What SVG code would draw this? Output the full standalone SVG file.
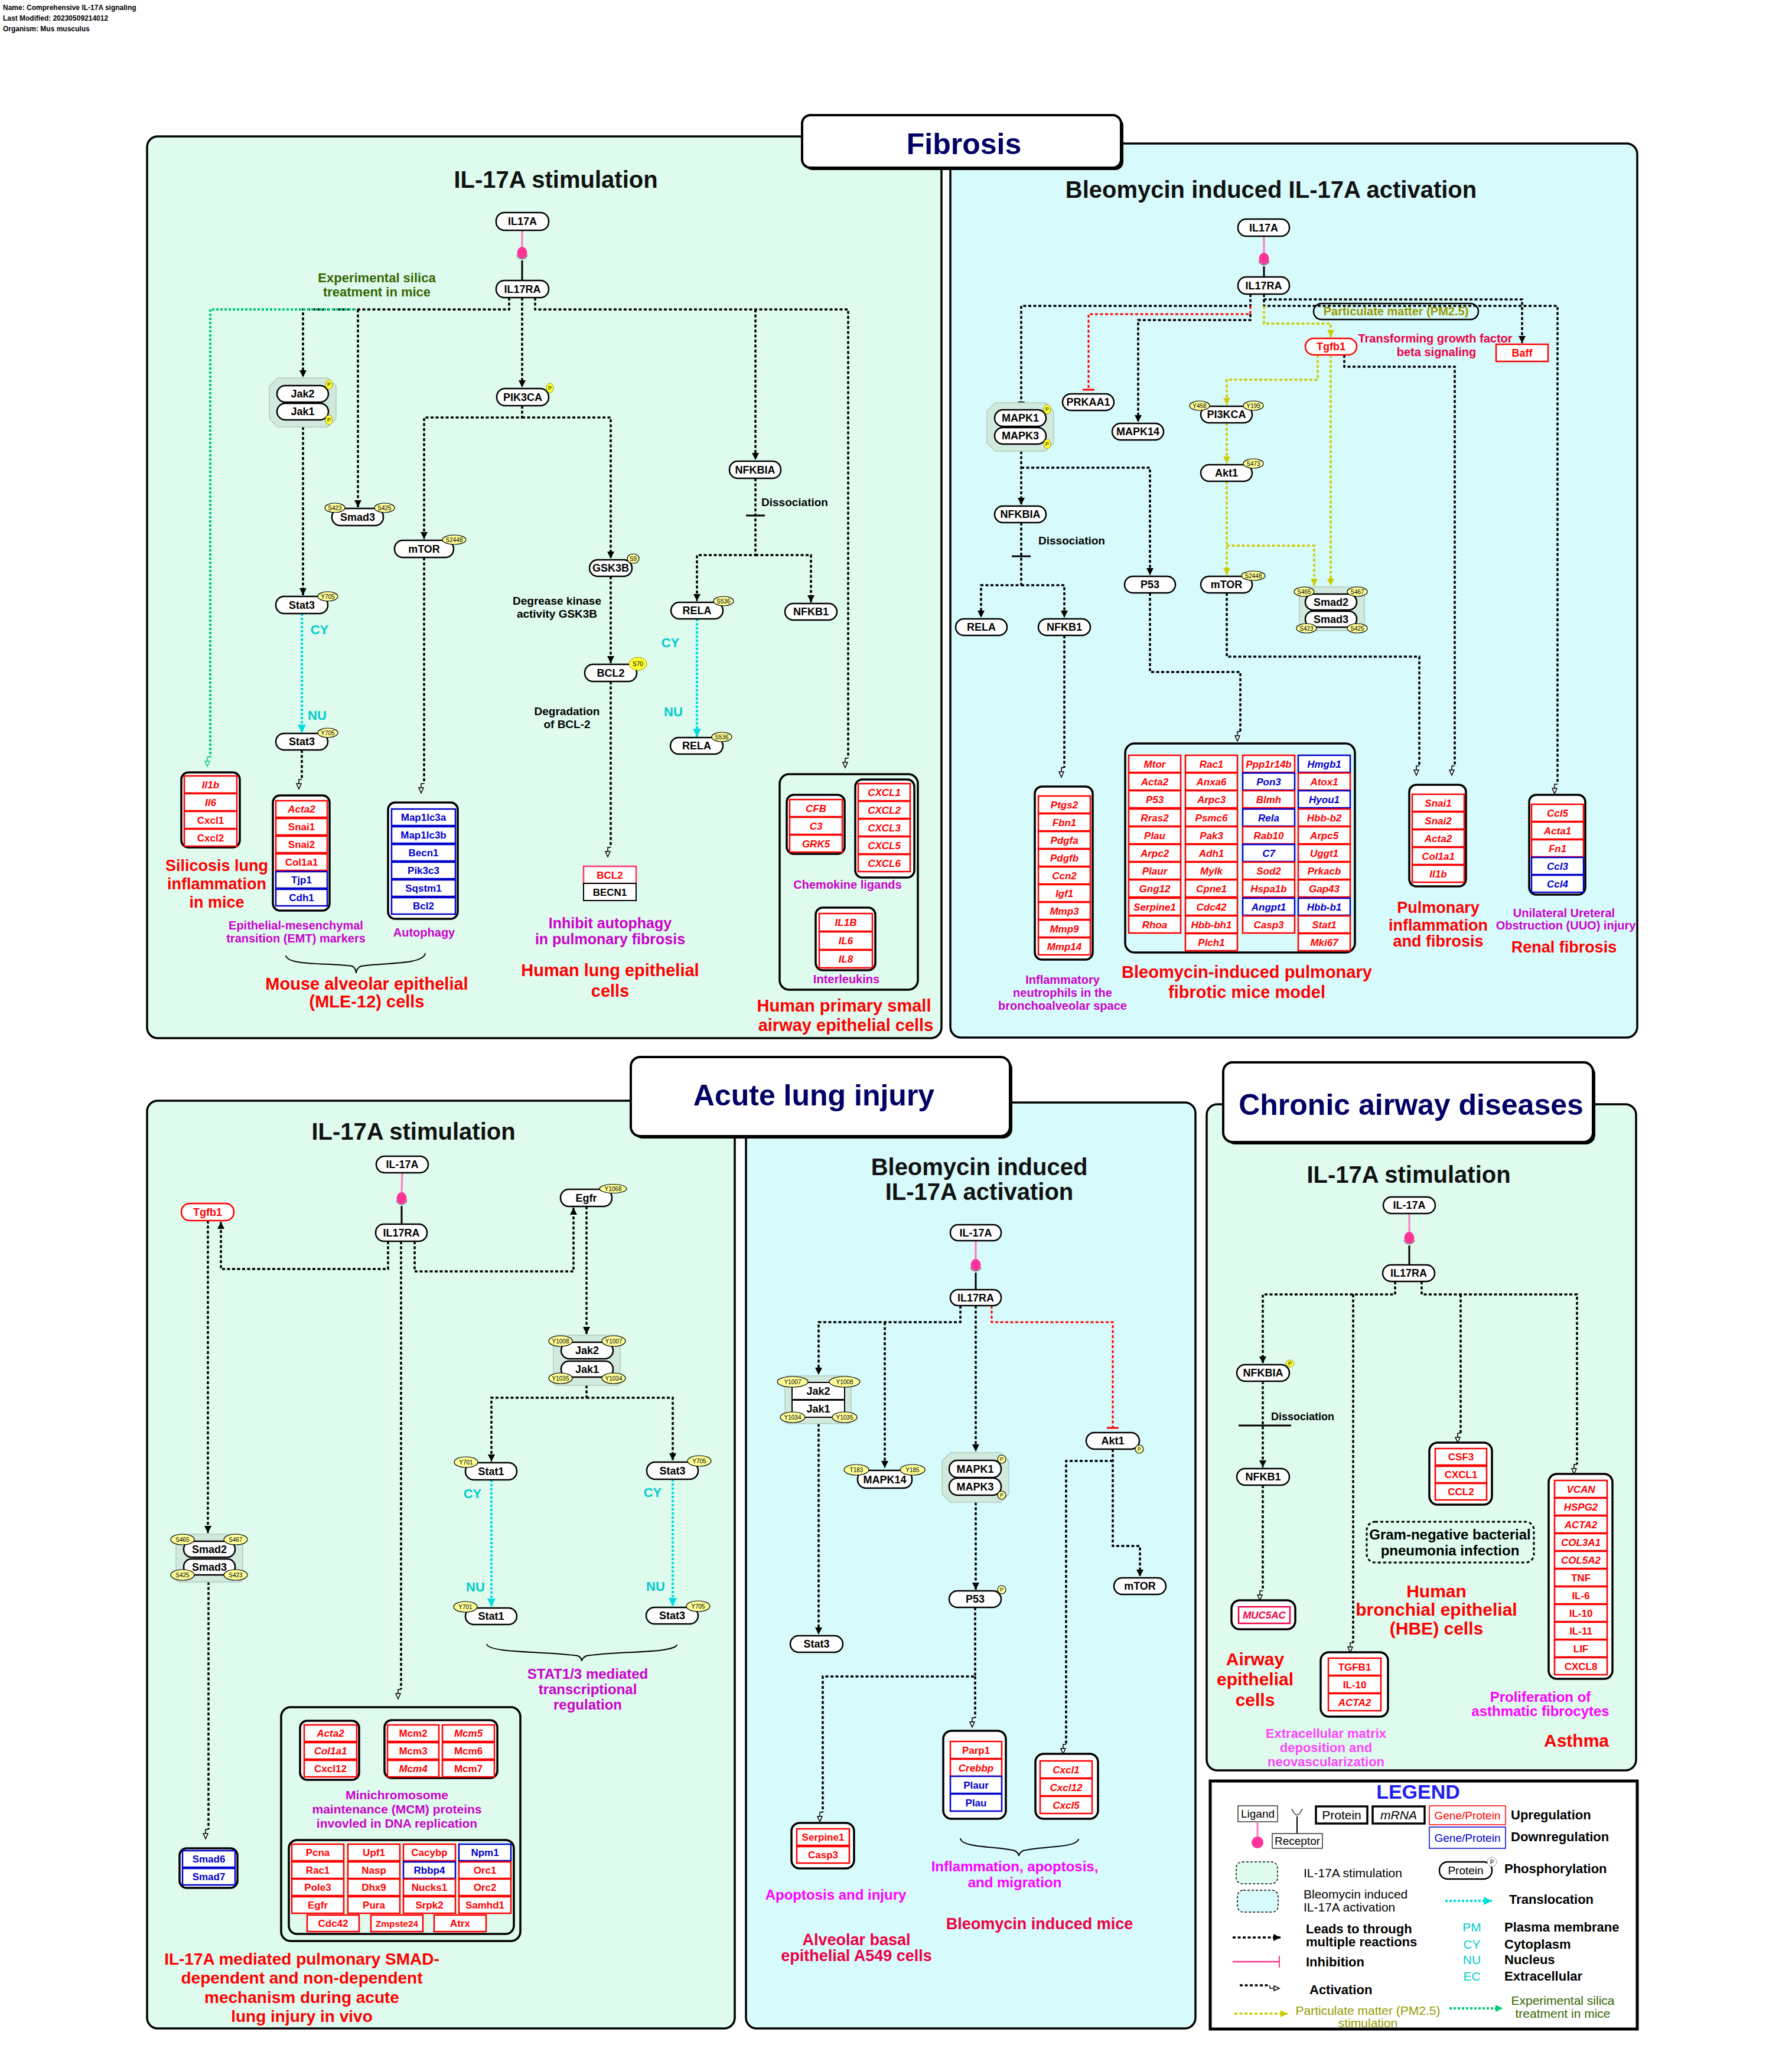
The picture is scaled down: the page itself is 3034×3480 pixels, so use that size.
<svg xmlns="http://www.w3.org/2000/svg" width="3034" height="3480" viewBox="0 0 3034 3480">
<style>
text{font-family:"Liberation Sans",Arial,sans-serif}
.pn1{fill:#defbee;stroke:#000;stroke-width:3.5}
.pn2{fill:#d7fafb;stroke:#000;stroke-width:3.5}
.ttl{fill:#fff;stroke:#000;stroke-width:4}
.tt{font-size:50px;font-weight:bold;fill:#000066;text-anchor:middle}
.st{font-size:40px;font-weight:bold;fill:#111;text-anchor:middle}
.nd{fill:#fff;stroke:#000;stroke-width:2.5}
.ndr{fill:#fff;stroke:#ff0000;stroke-width:2.5}
.nt{font-size:18px;font-weight:bold;text-anchor:middle;fill:#000}
.ntr{font-size:18px;font-weight:bold;text-anchor:middle;fill:#ff0000}
.bd{fill:#ffff99;stroke:#000;stroke-width:1.2}
.bdy{fill:#ffff33;stroke:#999900;stroke-width:1}
.bt{font-size:10px;text-anchor:middle;fill:#000}
.pt{font-size:9px;text-anchor:middle;fill:#000}
.grp{fill:#fff;stroke:#000;stroke-width:3.5}
.big{fill:none;stroke:#000;stroke-width:3.5}
.cr{fill:#fff;stroke:#ff0000;stroke-width:2.5}
.cb{fill:#fff;stroke:#0000cc;stroke-width:2.5}
.tr{font-size:17px;font-weight:bold;text-anchor:middle;fill:#ff0000}
.tb{font-size:17px;font-weight:bold;text-anchor:middle;fill:#0000cc}
.i{font-style:italic}
.cx{fill:#d2e9de;stroke:#b0cbbf;stroke-width:1.5}
.ln{fill:none;stroke:#000;stroke-width:3.5;stroke-dasharray:5 3.5}
.lnr{fill:none;stroke:#ff0000;stroke-width:3;stroke-dasharray:5 3.5}
.lny{fill:none;stroke:#cccc00;stroke-width:3.5;stroke-dasharray:5 3.5}
.lng{fill:none;stroke:#00cc77;stroke-width:4;stroke-dasharray:4 3}
.lnc{fill:none;stroke:#00dddd;stroke-width:4;stroke-dasharray:4 3}
.pk{stroke:#ff77bb;stroke-width:3}
.rl{stroke:#000;stroke-width:3}
.cup{fill:none;stroke:#777;stroke-width:1.5}
.dot{fill:#ff3399}
.br{fill:none;stroke:#000;stroke-width:2}
.lbl{font-size:19px;font-weight:bold;fill:#000}
.lblc{font-size:19px;font-weight:bold;fill:#000;text-anchor:middle}
.mg{fill:#cc00cc;font-weight:bold;text-anchor:middle;font-size:20px}
.mg2{fill:#ff00ff;font-weight:bold;text-anchor:middle;font-size:24px}
.rd{fill:#ff0000;font-weight:bold;text-anchor:middle}
.crm{fill:#ee0044;font-weight:bold;text-anchor:middle}
.cy{fill:#00cccc;font-weight:bold;font-size:22px;text-anchor:middle}
.lg{font-size:22px;font-weight:bold;fill:#000}
.lgr{font-size:21px;fill:#000}
</style>
<defs>
<marker id="af" viewBox="0 0 12 12" markerWidth="12" markerHeight="12" refX="12" refY="6" orient="auto" markerUnits="userSpaceOnUse"><path d="M0,0 L12,6 L0,12 z" fill="#000"/></marker>
<marker id="ac" viewBox="0 0 14 14" markerWidth="14" markerHeight="14" refX="14" refY="7" orient="auto" markerUnits="userSpaceOnUse"><path d="M0,0 L14,7 L0,14 z" fill="#00dddd"/></marker>
<marker id="ay" viewBox="0 0 12 12" markerWidth="12" markerHeight="12" refX="12" refY="6" orient="auto" markerUnits="userSpaceOnUse"><path d="M0,0 L12,6 L0,12 z" fill="#cccc00"/></marker>
<marker id="ag" viewBox="0 0 12 12" markerWidth="12" markerHeight="12" refX="12" refY="6" orient="auto" markerUnits="userSpaceOnUse"><path d="M0,0 L12,6 L0,12 z" fill="#00cc77"/></marker>
<marker id="ao" markerWidth="20" markerHeight="14" refX="0" refY="2" orient="auto" markerUnits="userSpaceOnUse" overflow="visible"><path d="M0,2 L0,7 L7,7" fill="none" stroke="#000" stroke-width="1.5"/><path d="M7,3 L16,7 L7,11 z" fill="#fff" stroke="#000" stroke-width="1.5"/></marker>
<marker id="aog" markerWidth="20" markerHeight="14" refX="0" refY="2" orient="auto" markerUnits="userSpaceOnUse" overflow="visible"><path d="M0,2 L0,7 L7,7" fill="none" stroke="#00cc77" stroke-width="1.5"/><path d="M7,3 L16,7 L7,11 z" fill="#fff" stroke="#00cc77" stroke-width="1.5"/></marker>
<marker id="tb" markerWidth="4" markerHeight="20" refX="0" refY="10" orient="auto" markerUnits="userSpaceOnUse" overflow="visible"><path d="M0,0 L0,20" stroke="#ff0000" stroke-width="3"/></marker>
</defs>

<rect x="0" y="0" width="3034" height="3480" fill="#fff"/>

<g id="header" font-size="12" font-weight="bold">
<text x="5" y="17">Name: Comprehensive IL-17A signaling</text>
<text x="5" y="35">Last Modified: 20230509214012</text>
<text x="5" y="53">Organism: Mus musculus</text>
</g>

<g id="panels">
<rect class="pn1" x="249" y="231" width="1345" height="1527" rx="18"/>
<rect class="pn2" x="1609" y="243" width="1163" height="1514" rx="18"/>
<rect class="pn1" x="249" y="1864" width="995" height="1571" rx="18"/>
<rect class="pn2" x="1263" y="1867" width="761" height="1568" rx="18"/>
<rect class="pn1" x="2043" y="1870" width="727" height="1128" rx="18"/>
</g>

<g id="titles">
<rect x="1362" y="199" width="540" height="89" rx="14" fill="#000"/>
<rect class="ttl" x="1358" y="195" width="540" height="89" rx="14"/>
<text class="tt" x="1632" y="261">Fibrosis</text>
<rect x="1072" y="1794" width="642" height="134" rx="16" fill="#000"/>
<rect class="ttl" x="1068" y="1790" width="642" height="134" rx="16"/>
<text class="tt" x="1378" y="1872">Acute lung injury</text>
<rect x="2075" y="1803" width="626" height="135" rx="16" fill="#000"/>
<rect class="ttl" x="2071" y="1799" width="626" height="135" rx="16"/>
<text class="tt" x="2389" y="1888">Chronic airway diseases</text>
<text class="st" x="941" y="318">IL-17A stimulation</text>
<text class="st" x="2152" y="335">Bleomycin induced IL-17A activation</text>
<text class="st" x="700" y="1930">IL-17A stimulation</text>
<text class="st" x="1658" y="1990">Bleomycin induced</text>
<text class="st" x="1658" y="2032">IL-17A activation</text>
<text class="st" x="2385" y="2003">IL-17A stimulation</text>
</g>

<g id="connectors">
<!-- panel 1 -->
<line class="pk" x1="884" y1="390" x2="884" y2="419"/>
<path class="cup" d="M875,432 A9.5,9.5 0 0 0 893,432"/>
<ellipse class="dot" cx="884" cy="428" rx="8.5" ry="10"/>
<line class="rl" x1="884" y1="441" x2="884" y2="475"/>
<path class="ln" d="M862,504 V524 H513 V639" marker-end="url(#af)"/>
<path class="ln" d="M606,524 V859" marker-end="url(#af)"/>
<path class="lng" d="M601,524 H356 V1282" marker-end="url(#aog)"/>
<path class="ln" d="M884,504 V656" marker-end="url(#af)"/>
<path class="ln" d="M906,504 V524 H1436 V1284" marker-end="url(#ao)"/>
<path class="ln" d="M1279,524 V779" marker-end="url(#af)"/>
<path class="ln" d="M513,723 V1008" marker-end="url(#af)"/>
<path class="lnc" d="M511,1039 V1241" marker-end="url(#ac)"/>
<path class="ln" d="M511,1270 V1320" marker-end="url(#ao)"/>
<path class="ln" d="M884,687 V707 H718 V913" marker-end="url(#af)"/>
<path class="ln" d="M884,707 H1034 V946" marker-end="url(#af)"/>
<path class="ln" d="M718,944 V1327" marker-end="url(#ao)"/>
<path class="ln" d="M1034,976 V1123" marker-end="url(#af)"/>
<path class="ln" d="M1034,1154 V1435" marker-end="url(#ao)"/>
<path class="ln" d="M1279,810 V940 H1180 V1018" marker-end="url(#af)"/>
<path class="ln" d="M1279,940 H1373 V1020" marker-end="url(#af)"/>
<line class="rl" x1="1263" y1="873" x2="1295" y2="873"/>
<path class="lnc" d="M1180,1048 V1248" marker-end="url(#ac)"/>
<!-- panel 2 -->
<line class="pk" x1="2140" y1="400" x2="2140" y2="429"/>
<path class="cup" d="M2131,442 A9.5,9.5 0 0 0 2149,442"/>
<ellipse class="dot" cx="2140" cy="438" rx="8.5" ry="10"/>
<line class="rl" x1="2140" y1="451" x2="2140" y2="469"/>
<path class="ln" d="M2117,498 V518 H1729 V692" marker-end="url(#af)"/>
<path class="lnr" d="M2117,518 V532 H1843 V660" marker-end="url(#tb)"/>
<path class="ln" d="M2117,532 V542 H1927 V715" marker-end="url(#af)"/>
<path class="ln" d="M2140,498 V507 H2577 V581" marker-end="url(#af)"/>
<path class="ln" d="M2140,507 V518 H2637 V1328" marker-end="url(#ao)"/>
<path class="lny" d="M2140,518 V548 H2253 V571" marker-end="url(#ay)"/>
<path class="lny" d="M2231,601 V643 H2077 V686" marker-end="url(#ay)"/>
<path class="lny" d="M2253,601 V992" marker-end="url(#ay)"/>
<path class="ln" d="M2276,601 V621 H2463 V1297" marker-end="url(#ao)"/>
<path class="lny" d="M2077,716 V785" marker-end="url(#ay)"/>
<path class="lny" d="M2077,815 V974" marker-end="url(#ay)"/>
<path class="lny" d="M2077,924 H2225 V992" marker-end="url(#ay)"/>
<path class="ln" d="M1729,764 V855" marker-end="url(#af)"/>
<path class="ln" d="M1729,792 H1947 V974" marker-end="url(#af)"/>
<path class="ln" d="M1729,885 V991 H1661 V1046" marker-end="url(#af)"/>
<path class="ln" d="M1729,991 H1802 V1046" marker-end="url(#af)"/>
<line class="rl" x1="1713" y1="942" x2="1745" y2="942"/>
<path class="ln" d="M1802,1076 V1300" marker-end="url(#ao)"/>
<path class="ln" d="M1947,1004 V1138 H2100 V1239" marker-end="url(#ao)"/>
<path class="ln" d="M2077,1004 V1112 H2403 V1297" marker-end="url(#ao)"/>
<!-- panel 3 -->
<line class="pk" x1="681" y1="1986" x2="680" y2="2020"/>
<path class="cup" d="M671,2033 A9.5,9.5 0 0 0 689,2033"/>
<ellipse class="dot" cx="680" cy="2029" rx="8.5" ry="10"/>
<line class="rl" x1="680" y1="2042" x2="680" y2="2073"/>
<path class="ln" d="M657,2102 V2149 H374 V2069" marker-end="url(#af)"/>
<path class="ln" d="M702,2102 V2153 H971 V2045" marker-end="url(#af)"/>
<path class="ln" d="M679,2102 V2861" marker-end="url(#ao)"/>
<path class="ln" d="M352,2067 V2596" marker-end="url(#af)"/>
<path class="ln" d="M993,2043 V2259" marker-end="url(#af)"/>
<path class="ln" d="M993,2346 V2367 H832 V2475" marker-end="url(#af)"/>
<path class="ln" d="M993,2367 H1139 V2473" marker-end="url(#af)"/>
<path class="lnc" d="M832,2506 V2721" marker-end="url(#ac)"/>
<path class="lnc" d="M1139,2505 V2720" marker-end="url(#ac)"/>
<path class="ln" d="M353,2679 V3098" marker-end="url(#ao)"/>
<!-- panel 4 -->
<line class="pk" x1="1652" y1="2101" x2="1652" y2="2133"/>
<path class="cup" d="M1643,2146 A9.5,9.5 0 0 0 1661,2146"/>
<ellipse class="dot" cx="1652" cy="2142" rx="8.5" ry="10"/>
<line class="rl" x1="1652" y1="2155" x2="1652" y2="2184"/>
<path class="ln" d="M1626,2211 V2239 H1386 V2328" marker-end="url(#af)"/>
<path class="ln" d="M1498,2239 V2486" marker-end="url(#af)"/>
<path class="ln" d="M1652,2211 V2458" marker-end="url(#af)"/>
<path class="lnr" d="M1679,2211 V2239 H1884 V2418" marker-end="url(#tb)"/>
<path class="ln" d="M1386,2411 V2768" marker-end="url(#af)"/>
<path class="ln" d="M1652,2544 V2692" marker-end="url(#af)"/>
<path class="ln" d="M1651,2722 V2839 H1393 V3069" marker-end="url(#ao)"/>
<path class="ln" d="M1651,2839 V2909" marker-end="url(#ao)"/>
<path class="ln" d="M1884,2454 V2618 H1930 V2670" marker-end="url(#af)"/>
<path class="ln" d="M1884,2474 H1805 V2954" marker-end="url(#ao)"/>
<!-- panel 5 -->
<line class="pk" x1="2386" y1="2055" x2="2386" y2="2087"/>
<path class="cup" d="M2377,2100 A9.5,9.5 0 0 0 2395,2100"/>
<ellipse class="dot" cx="2386" cy="2096" rx="8.5" ry="10"/>
<line class="rl" x1="2386" y1="2109" x2="2386" y2="2142"/>
<path class="ln" d="M2362,2170 V2192 H2138 V2309" marker-end="url(#af)"/>
<path class="ln" d="M2291,2192 V2782" marker-end="url(#ao)"/>
<path class="ln" d="M2407,2170 V2192 H2670 V2480" marker-end="url(#ao)"/>
<path class="ln" d="M2473,2192 V2427" marker-end="url(#ao)"/>
<path class="ln" d="M2138,2339 V2485" marker-end="url(#af)"/>
<line class="rl" x1="2097" y1="2414" x2="2186" y2="2414"/>
<path class="ln" d="M2138,2515 V2694" marker-end="url(#ao)"/>
<!-- braces -->
<path class="br" d="M484,1618 C486,1636 560,1630 596,1636 C601,1638 603,1644 603,1648 C603,1644 606,1638 611,1636 C648,1630 718,1634 720,1614"/>
<path class="br" d="M824,2784 C826,2800 930,2796 978,2804 C983,2806 985,2810 985,2813 C985,2810 988,2806 993,2804 C1040,2796 1144,2800 1146,2785"/>
<path class="br" d="M1626,3113 C1628,3130 1690,3126 1718,3134 C1722,3136 1725,3140 1725,3143 C1725,3140 1728,3136 1732,3134 C1760,3126 1824,3130 1826,3114"/>
</g>

<!-- ===== Panel 1 nodes ===== -->
<g id="p1-IL17A"><rect class="nd" x="840" y="360" width="89" height="30" rx="14"/><text class="nt" x="884.5" y="381">IL17A</text></g>
<g id="p1-IL17RA"><rect class="nd" x="840" y="475" width="89" height="29" rx="14"/><text class="nt" x="884.5" y="496">IL17RA</text></g>
<g id="p1-Jak"><polygon class="cx" points="470,640 555,640 569,654 569,709 555,723 470,723 456,709 456,654"/><rect class="nd" x="469" y="653" width="87" height="28" rx="14"/><text class="nt" x="512.5" y="673">Jak2</text><rect class="nd" x="469" y="683" width="87" height="28" rx="14"/><text class="nt" x="512.5" y="703">Jak1</text><ellipse class="bdy" cx="557" cy="651" rx="6" ry="8"/><text class="pt" x="557" y="654">P</text><ellipse class="bdy" cx="557" cy="711" rx="6" ry="8"/><text class="pt" x="557" y="714">P</text></g>
<g id="p1-Smad3"><rect class="nd" x="562" y="861" width="87" height="29" rx="14"/><text class="nt" x="605.5" y="882">Smad3</text><ellipse class="bd" cx="567" cy="860" rx="17" ry="8"/><text class="bt" x="567" y="863.5">S423</text><ellipse class="bd" cx="651" cy="860" rx="17" ry="8"/><text class="bt" x="651" y="863.5">S425</text></g>
<g id="p1-PIK3CA"><rect class="nd" x="841" y="658" width="88" height="29" rx="14"/><text class="nt" x="885" y="679">PIK3CA</text><ellipse class="bdy" cx="931" cy="657" rx="6" ry="8"/><text class="pt" x="931" y="660">P</text></g>
<g id="p1-mTOR"><rect class="nd" x="668" y="915" width="100" height="29" rx="14"/><text class="nt" x="718" y="936">mTOR</text><ellipse class="bd" cx="769" cy="914" rx="20" ry="8"/><text class="bt" x="769" y="917.5">S2448</text></g>
<g id="p1-GSK3B"><rect class="nd" x="998" y="948" width="72" height="28" rx="14"/><text class="nt" x="1034" y="968">GSK3B</text><ellipse class="bd" cx="1072" cy="946" rx="10" ry="8"/><text class="bt" x="1072" y="949.5">S9</text></g>
<g id="p1-BCL2"><rect class="nd" x="990" y="1125" width="88" height="29" rx="14"/><text class="nt" x="1034" y="1146">BCL2</text><ellipse class="bdy" cx="1080" cy="1124" rx="15" ry="11"/><text class="bt" x="1080" y="1127.5">S70</text></g>
<g id="p1-NFKBIA"><rect class="nd" x="1235" y="781" width="87" height="29" rx="14"/><text class="nt" x="1278.5" y="802">NFKBIA</text></g>
<g id="p1-RELA1"><rect class="nd" x="1136" y="1020" width="88" height="28" rx="14"/><text class="nt" x="1180" y="1040">RELA</text><ellipse class="bd" cx="1225" cy="1018" rx="17" ry="8"/><text class="bt" x="1225" y="1021.5">S536</text></g>
<g id="p1-NFKB1"><rect class="nd" x="1329" y="1022" width="88" height="28" rx="14"/><text class="nt" x="1373" y="1042">NFKB1</text></g>
<g id="p1-RELA2"><rect class="nd" x="1135" y="1249" width="89" height="28" rx="14"/><text class="nt" x="1179.5" y="1269">RELA</text><ellipse class="bd" cx="1222" cy="1248" rx="17" ry="8"/><text class="bt" x="1222" y="1251.5">S536</text></g>
<g id="p1-Stat3a"><rect class="nd" x="467" y="1010" width="88" height="29" rx="14"/><text class="nt" x="511" y="1031">Stat3</text><ellipse class="bd" cx="555" cy="1010" rx="17" ry="8"/><text class="bt" x="555" y="1013.5">Y705</text></g>
<g id="p1-Stat3b"><rect class="nd" x="467" y="1242" width="88" height="28" rx="14"/><text class="nt" x="511" y="1262">Stat3</text><ellipse class="bd" cx="555" cy="1241" rx="17" ry="8"/><text class="bt" x="555" y="1244.5">Y705</text></g>

<g id="p1-Il1b"><rect class="grp" x="307" y="1308" width="99" height="127" rx="12"/>
<rect class="cr" x="312" y="1314" width="89" height="29"/><text class="tr i" x="356.5" y="1335">Il1b</text>
<rect class="cr" x="312" y="1344" width="89" height="29"/><text class="tr i" x="356.5" y="1365">Il6</text>
<rect class="cr" x="312" y="1374" width="89" height="29"/><text class="tr" x="356.5" y="1395">Cxcl1</text>
<rect class="cr" x="312" y="1404" width="89" height="29"/><text class="tr" x="356.5" y="1425">Cxcl2</text></g>
<g id="p1-EMT"><rect class="grp" x="462" y="1347" width="96" height="195" rx="12"/>
<rect class="cr" x="467" y="1356" width="87" height="28"/><text class="tr i" x="510.5" y="1376">Acta2</text>
<rect class="cr" x="467" y="1386" width="87" height="28"/><text class="tr" x="510.5" y="1406">Snai1</text>
<rect class="cr" x="467" y="1416" width="87" height="28"/><text class="tr" x="510.5" y="1436">Snai2</text>
<rect class="cr" x="467" y="1446" width="87" height="28"/><text class="tr" x="510.5" y="1466">Col1a1</text>
<rect class="cb" x="467" y="1476" width="87" height="28"/><text class="tb" x="510.5" y="1496">Tjp1</text>
<rect class="cb" x="467" y="1506" width="87" height="28"/><text class="tb" x="510.5" y="1526">Cdh1</text></g>
<g id="p1-Autophagy"><rect class="grp" x="657" y="1359" width="118" height="197" rx="12"/>
<rect class="cb" x="663" y="1370" width="108" height="28"/><text class="tb" x="717" y="1390">Map1lc3a</text>
<rect class="cb" x="663" y="1400" width="108" height="28"/><text class="tb" x="717" y="1420">Map1lc3b</text>
<rect class="cb" x="663" y="1430" width="108" height="28"/><text class="tb" x="717" y="1450">Becn1</text>
<rect class="cb" x="663" y="1460" width="108" height="28"/><text class="tb" x="717" y="1480">Pik3c3</text>
<rect class="cb" x="663" y="1490" width="108" height="28"/><text class="tb" x="717" y="1510">Sqstm1</text>
<rect class="cb" x="663" y="1520" width="108" height="28"/><text class="tb" x="717" y="1540">Bcl2</text></g>
<g id="p1-BCL2BECN1"><rect class="cr" x="988" y="1467" width="89" height="29" style="stroke:#ff3366"/><text class="tr" x="1032.5" y="1488">BCL2</text>
<rect class="nd" x="988" y="1496" width="89" height="29" style="stroke-width:2"/><text class="nt" x="1032.5" y="1517" style="font-size:17px">BECN1</text></g>
<g id="p1-Chemokine"><rect class="big" x="1320" y="1311" width="234" height="365" rx="16"/>
<rect class="grp" x="1332" y="1346" width="98" height="100" rx="12"/>
<rect class="cr" x="1337" y="1354" width="89" height="29"/><text class="tr i" x="1381.5" y="1375">CFB</text>
<rect class="cr" x="1337" y="1384" width="89" height="29"/><text class="tr i" x="1381.5" y="1405">C3</text>
<rect class="cr" x="1337" y="1414" width="89" height="29"/><text class="tr i" x="1381.5" y="1435">GRK5</text>
<rect class="grp" x="1448" y="1320" width="100" height="166" rx="12"/>
<rect class="cr" x="1453" y="1327" width="88" height="29"/><text class="tr i" x="1497" y="1348">CXCL1</text>
<rect class="cr" x="1453" y="1357" width="88" height="29"/><text class="tr i" x="1497" y="1378">CXCL2</text>
<rect class="cr" x="1453" y="1387" width="88" height="29"/><text class="tr i" x="1497" y="1408">CXCL3</text>
<rect class="cr" x="1453" y="1417" width="88" height="29"/><text class="tr i" x="1497" y="1438">CXCL5</text>
<rect class="cr" x="1453" y="1447" width="88" height="29"/><text class="tr i" x="1497" y="1468">CXCL6</text>
<rect class="grp" x="1381" y="1537" width="101" height="106" rx="12"/>
<rect class="cr" x="1387" y="1547" width="90" height="30"/><text class="tr i" x="1432" y="1568">IL1B</text>
<rect class="cr" x="1387" y="1578" width="90" height="30"/><text class="tr i" x="1432" y="1599">IL6</text>
<rect class="cr" x="1387" y="1609" width="90" height="30"/><text class="tr i" x="1432" y="1630">IL8</text></g>

<g id="p1-labels">
<text x="638" y="478" font-size="22" font-weight="bold" fill="#336600" text-anchor="middle">Experimental silica</text>
<text x="638" y="502" font-size="22" font-weight="bold" fill="#336600" text-anchor="middle">treatment in mice</text>
<text class="lbl" x="1289" y="857">Dissociation</text>
<text class="lblc" x="943" y="1024">Degrease kinase</text>
<text class="lblc" x="943" y="1046">activity GSK3B</text>
<text class="lblc" x="960" y="1211">Degradation</text>
<text class="lblc" x="960" y="1233">of BCL-2</text>
<text class="cy" x="541" y="1074">CY</text>
<text class="cy" x="537" y="1219">NU</text>
<text class="cy" x="1135" y="1096">CY</text>
<text class="cy" x="1140" y="1213">NU</text>
<text class="rd" x="367" y="1475" font-size="27">Silicosis lung</text>
<text class="rd" x="367" y="1506" font-size="27">inflammation</text>
<text class="rd" x="367" y="1537" font-size="27">in mice</text>
<text class="mg" x="501" y="1574">Epithelial-mesenchymal</text>
<text class="mg" x="501" y="1596">transition (EMT) markers</text>
<text class="mg" x="718" y="1586">Autophagy</text>
<text class="rd" x="621" y="1676" font-size="29">Mouse alveolar epithelial</text>
<text class="rd" x="621" y="1706" font-size="29">(MLE-12) cells</text>
<text class="mg" x="1033" y="1572" style="font-size:25px">Inhibit autophagy</text>
<text class="mg" x="1033" y="1599" style="font-size:25px">in pulmonary fibrosis</text>
<text class="rd" x="1033" y="1653" font-size="29">Human lung epithelial</text>
<text class="rd" x="1033" y="1688" font-size="29">cells</text>
<text class="mg" x="1435" y="1505">Chemokine ligands</text>
<text class="mg" x="1433" y="1665">Interleukins</text>
<text class="rd" x="1429" y="1713" font-size="29">Human primary small</text>
<text class="rd" x="1432" y="1746" font-size="29">airway epithelial cells</text>
</g>

<!-- ===== Panel 2 nodes ===== -->
<g id="p2-IL17A"><rect class="nd" x="2096" y="371" width="87" height="29" rx="14"/><text class="nt" x="2139.5" y="392">IL17A</text></g>
<g id="p2-IL17RA"><rect class="nd" x="2096" y="469" width="87" height="29" rx="14"/><text class="nt" x="2139.5" y="490">IL17RA</text></g>
<g id="p2-PM25"><rect x="2224" y="514" width="279" height="27" rx="13.5" fill="none" stroke="#000" stroke-width="2.5"/><text x="2363.5" y="534" font-size="20" font-weight="bold" fill="#999900" text-anchor="middle">Particulate matter (PM2.5)</text></g>
<g id="p2-Tgfb1"><rect class="ndr" x="2210" y="573" width="87" height="28" rx="14"/><text class="ntr" x="2253.5" y="593">Tgfb1</text></g>
<g id="p2-Baff"><rect x="2533" y="583" width="88" height="29" fill="#fff" stroke="#ff0000" stroke-width="2.5"/><text class="ntr" x="2577" y="604">Baff</text></g>
<g id="p2-PRKAA1"><rect class="nd" x="1799" y="667" width="87" height="28" rx="14"/><text class="nt" x="1842.5" y="687">PRKAA1</text></g>
<g id="p2-MAPK"><polygon class="cx" points="1685,682 1770,682 1784,696 1784,750 1770,764 1685,764 1671,750 1671,696"/><rect class="nd" x="1684" y="694" width="87" height="28" rx="14"/><text class="nt" x="1727.5" y="714">MAPK1</text><rect class="nd" x="1684" y="724" width="87" height="28" rx="14"/><text class="nt" x="1727.5" y="744">MAPK3</text><ellipse class="bdy" cx="1773" cy="693" rx="6" ry="8"/><text class="pt" x="1773" y="696">P</text><ellipse class="bdy" cx="1773" cy="752" rx="6" ry="8"/><text class="pt" x="1773" y="755">P</text></g>
<g id="p2-MAPK14"><rect class="nd" x="1883" y="717" width="87" height="28" rx="14"/><text class="nt" x="1926.5" y="737">MAPK14</text></g>
<g id="p2-PI3KCA"><rect class="nd" x="2033" y="688" width="87" height="28" rx="14"/><text class="nt" x="2076.5" y="708">PI3KCA</text><ellipse class="bd" cx="2031" cy="687" rx="17" ry="8"/><text class="bt" x="2031" y="690.5">Y458</text><ellipse class="bd" cx="2122" cy="687" rx="17" ry="8"/><text class="bt" x="2122" y="690.5">Y199</text></g>
<g id="p2-Akt1"><rect class="nd" x="2033" y="787" width="87" height="28" rx="14"/><text class="nt" x="2076.5" y="807">Akt1</text><ellipse class="bd" cx="2122" cy="785" rx="17" ry="8"/><text class="bt" x="2122" y="788.5">S473</text></g>
<g id="p2-mTOR"><rect class="nd" x="2033" y="976" width="87" height="28" rx="14"/><text class="nt" x="2076.5" y="996">mTOR</text><ellipse class="bd" cx="2122" cy="975" rx="20" ry="8"/><text class="bt" x="2122" y="978.5">S2448</text></g>
<g id="p2-P53"><rect class="nd" x="1904" y="976" width="86" height="28" rx="14"/><text class="nt" x="1947" y="996">P53</text></g>
<g id="p2-NFKBIA"><rect class="nd" x="1684" y="857" width="87" height="28" rx="14"/><text class="nt" x="1727.5" y="877">NFKBIA</text></g>
<g id="p2-RELA"><rect class="nd" x="1618" y="1048" width="87" height="28" rx="14"/><text class="nt" x="1661.5" y="1068">RELA</text></g>
<g id="p2-NFKB1"><rect class="nd" x="1758" y="1048" width="88" height="28" rx="14"/><text class="nt" x="1802" y="1068">NFKB1</text></g>
<g id="p2-Smad"><rect class="cx" x="2200" y="994" width="110" height="74" rx="6"/><rect class="nd" x="2210" y="1006" width="87" height="27" rx="13"/><text class="nt" x="2253.5" y="1026">Smad2</text><rect class="nd" x="2210" y="1035" width="87" height="27" rx="13"/><text class="nt" x="2253.5" y="1055">Smad3</text><ellipse class="bd" cx="2208" cy="1002" rx="17" ry="8"/><text class="bt" x="2208" y="1005.5">S465</text><ellipse class="bd" cx="2298" cy="1002" rx="17" ry="8"/><text class="bt" x="2298" y="1005.5">S467</text><ellipse class="bd" cx="2212" cy="1064" rx="17" ry="8"/><text class="bt" x="2212" y="1067.5">S423</text><ellipse class="bd" cx="2298" cy="1064" rx="17" ry="8"/><text class="bt" x="2298" y="1067.5">S425</text></g>

<g id="p2-Inflam"><rect class="grp" x="1752" y="1332" width="98" height="293" rx="12"/>
<rect class="cr" x="1758" y="1348" width="88" height="29"/><text class="tr i" x="1802" y="1369">Ptgs2</text>
<rect class="cr" x="1758" y="1378" width="88" height="29"/><text class="tr i" x="1802" y="1399">Fbn1</text>
<rect class="cr" x="1758" y="1408" width="88" height="29"/><text class="tr i" x="1802" y="1429">Pdgfa</text>
<rect class="cr" x="1758" y="1438" width="88" height="29"/><text class="tr i" x="1802" y="1459">Pdgfb</text>
<rect class="cr" x="1758" y="1468" width="88" height="29"/><text class="tr i" x="1802" y="1489">Ccn2</text>
<rect class="cr" x="1758" y="1498" width="88" height="29"/><text class="tr i" x="1802" y="1519">Igf1</text>
<rect class="cr" x="1758" y="1528" width="88" height="29"/><text class="tr i" x="1802" y="1549">Mmp3</text>
<rect class="cr" x="1758" y="1558" width="88" height="29"/><text class="tr i" x="1802" y="1579">Mmp9</text>
<rect class="cr" x="1758" y="1588" width="88" height="29"/><text class="tr i" x="1802" y="1609">Mmp14</text></g>

<g id="p2-BleoModel"><rect class="big" x="1905" y="1259" width="389" height="354" rx="16"/>
<rect class="cr" x="1911" y="1279" width="88" height="29"/><text class="tr i" x="1955" y="1300">Mtor</text>
<rect class="cr" x="1911" y="1309" width="88" height="29"/><text class="tr i" x="1955" y="1330">Acta2</text>
<rect class="cr" x="1911" y="1339" width="88" height="29"/><text class="tr i" x="1955" y="1360">P53</text>
<rect class="cr" x="1911" y="1370" width="88" height="29"/><text class="tr i" x="1955" y="1391">Rras2</text>
<rect class="cr" x="1911" y="1400" width="88" height="29"/><text class="tr i" x="1955" y="1421">Plau</text>
<rect class="cr" x="1911" y="1430" width="88" height="29"/><text class="tr i" x="1955" y="1451">Arpc2</text>
<rect class="cr" x="1911" y="1460" width="88" height="29"/><text class="tr i" x="1955" y="1481">Plaur</text>
<rect class="cr" x="1911" y="1490" width="88" height="29"/><text class="tr i" x="1955" y="1511">Gng12</text>
<rect class="cr" x="1911" y="1521" width="88" height="29"/><text class="tr i" x="1955" y="1542">Serpine1</text>
<rect class="cr" x="1911" y="1551" width="88" height="29"/><text class="tr i" x="1955" y="1572">Rhoa</text>
<rect class="cr" x="2007" y="1279" width="88" height="29"/><text class="tr i" x="2051" y="1300">Rac1</text>
<rect class="cr" x="2007" y="1309" width="88" height="29"/><text class="tr i" x="2051" y="1330">Anxa6</text>
<rect class="cr" x="2007" y="1339" width="88" height="29"/><text class="tr i" x="2051" y="1360">Arpc3</text>
<rect class="cr" x="2007" y="1370" width="88" height="29"/><text class="tr i" x="2051" y="1391">Psmc6</text>
<rect class="cr" x="2007" y="1400" width="88" height="29"/><text class="tr i" x="2051" y="1421">Pak3</text>
<rect class="cr" x="2007" y="1430" width="88" height="29"/><text class="tr i" x="2051" y="1451">Adh1</text>
<rect class="cr" x="2007" y="1460" width="88" height="29"/><text class="tr i" x="2051" y="1481">Mylk</text>
<rect class="cr" x="2007" y="1490" width="88" height="29"/><text class="tr i" x="2051" y="1511">Cpne1</text>
<rect class="cr" x="2007" y="1521" width="88" height="29"/><text class="tr i" x="2051" y="1542">Cdc42</text>
<rect class="cr" x="2007" y="1551" width="88" height="29"/><text class="tr i" x="2051" y="1572">Hbb-bh1</text>
<rect class="cr" x="2007" y="1581" width="88" height="29"/><text class="tr i" x="2051" y="1602">Plch1</text>
<rect class="cr" x="2104" y="1279" width="88" height="29"/><text class="tr i" x="2148" y="1300">Ppp1r14b</text>
<rect class="cb" x="2104" y="1309" width="88" height="29"/><text class="tb i" x="2148" y="1330">Pon3</text>
<rect class="cr" x="2104" y="1339" width="88" height="29"/><text class="tr i" x="2148" y="1360">Blmh</text>
<rect class="cb" x="2104" y="1370" width="88" height="29"/><text class="tb i" x="2148" y="1391">Rela</text>
<rect class="cr" x="2104" y="1400" width="88" height="29"/><text class="tr i" x="2148" y="1421">Rab10</text>
<rect class="cb" x="2104" y="1430" width="88" height="29"/><text class="tb i" x="2148" y="1451">C7</text>
<rect class="cr" x="2104" y="1460" width="88" height="29"/><text class="tr i" x="2148" y="1481">Sod2</text>
<rect class="cr" x="2104" y="1490" width="88" height="29"/><text class="tr i" x="2148" y="1511">Hspa1b</text>
<rect class="cb" x="2104" y="1521" width="88" height="29"/><text class="tb i" x="2148" y="1542">Angpt1</text>
<rect class="cr" x="2104" y="1551" width="88" height="29"/><text class="tr i" x="2148" y="1572">Casp3</text>
<rect class="cb" x="2198" y="1279" width="88" height="29"/><text class="tb i" x="2242" y="1300">Hmgb1</text>
<rect class="cr" x="2198" y="1309" width="88" height="29"/><text class="tr i" x="2242" y="1330">Atox1</text>
<rect class="cb" x="2198" y="1339" width="88" height="29"/><text class="tb i" x="2242" y="1360">Hyou1</text>
<rect class="cr" x="2198" y="1370" width="88" height="29"/><text class="tr i" x="2242" y="1391">Hbb-b2</text>
<rect class="cr" x="2198" y="1400" width="88" height="29"/><text class="tr i" x="2242" y="1421">Arpc5</text>
<rect class="cr" x="2198" y="1430" width="88" height="29"/><text class="tr i" x="2242" y="1451">Uggt1</text>
<rect class="cr" x="2198" y="1460" width="88" height="29"/><text class="tr i" x="2242" y="1481">Prkacb</text>
<rect class="cr" x="2198" y="1490" width="88" height="29"/><text class="tr i" x="2242" y="1511">Gap43</text>
<rect class="cb" x="2198" y="1521" width="88" height="29"/><text class="tb i" x="2242" y="1542">Hbb-b1</text>
<rect class="cr" x="2198" y="1551" width="88" height="29"/><text class="tr i" x="2242" y="1572">Stat1</text>
<rect class="cr" x="2198" y="1581" width="88" height="29"/><text class="tr i" x="2242" y="1602">Mki67</text></g>

<g id="p2-Pulm"><rect class="grp" x="2386" y="1329" width="96" height="172" rx="12"/>
<rect class="cr" x="2391" y="1345" width="88" height="29"/><text class="tr i" x="2435" y="1366">Snai1</text>
<rect class="cr" x="2391" y="1375" width="88" height="29"/><text class="tr i" x="2435" y="1396">Snai2</text>
<rect class="cr" x="2391" y="1405" width="88" height="29"/><text class="tr i" x="2435" y="1426">Acta2</text>
<rect class="cr" x="2391" y="1435" width="88" height="29"/><text class="tr i" x="2435" y="1456">Col1a1</text>
<rect class="cr" x="2391" y="1465" width="88" height="29"/><text class="tr i" x="2435" y="1486">Il1b</text></g>
<g id="p2-Renal"><rect class="grp" x="2589" y="1346" width="95" height="169" rx="12"/>
<rect class="cr" x="2593" y="1362" width="88" height="29"/><text class="tr i" x="2637" y="1383">Ccl5</text>
<rect class="cr" x="2593" y="1392" width="88" height="29"/><text class="tr i" x="2637" y="1413">Acta1</text>
<rect class="cr" x="2593" y="1422" width="88" height="29"/><text class="tr i" x="2637" y="1443">Fn1</text>
<rect class="cb" x="2593" y="1452" width="88" height="29"/><text class="tb i" x="2637" y="1473">Ccl3</text>
<rect class="cb" x="2593" y="1482" width="88" height="29"/><text class="tb i" x="2637" y="1503">Ccl4</text></g>

<g id="p2-labels">
<text x="2430" y="580" font-size="20" font-weight="bold" fill="#ee0044" text-anchor="middle">Transforming growth factor</text>
<text x="2432" y="603" font-size="20" font-weight="bold" fill="#ee0044" text-anchor="middle">beta signaling</text>
<text class="lbl" x="1758" y="922">Dissociation</text>
<text class="mg" x="1799" y="1666">Inflammatory</text>
<text class="mg" x="1799" y="1688">neutrophils in the</text>
<text class="mg" x="1799" y="1710">bronchoalveolar space</text>
<text class="rd" x="2111" y="1656" font-size="29">Bleomycin-induced pulmonary</text>
<text class="rd" x="2111" y="1690" font-size="29">fibrotic mice model</text>
<text class="rd" x="2435" y="1546" font-size="27">Pulmonary</text>
<text class="rd" x="2435" y="1576" font-size="27">inflammation</text>
<text class="rd" x="2435" y="1603" font-size="27">and fibrosis</text>
<text class="mg" x="2648" y="1553">Unilateral Ureteral</text>
<text class="mg" x="2651" y="1574">Obstruction (UUO) injury</text>
<text class="rd" x="2648" y="1613" font-size="27">Renal fibrosis</text>
</g>

<!-- ===== Panel 3 nodes ===== -->
<g id="p3-IL17A"><rect class="nd" x="637" y="1958" width="88" height="28" rx="14"/><text class="nt" x="681" y="1978">IL-17A</text></g>
<g id="p3-IL17RA"><rect class="nd" x="636" y="2073" width="87" height="29" rx="14"/><text class="nt" x="679.5" y="2094">IL17RA</text></g>
<g id="p3-Tgfb1"><rect class="ndr" x="307" y="2038" width="89" height="29" rx="14"/><text class="ntr" x="351.5" y="2059">Tgfb1</text></g>
<g id="p3-Egfr"><rect class="nd" x="949" y="2014" width="87" height="29" rx="14"/><text class="nt" x="992.5" y="2035">Egfr</text><ellipse class="bd" cx="1038" cy="2013" rx="23" ry="7.5"/><text class="bt" x="1038" y="2016.5">Y1068</text></g>
<g id="p3-Jak"><rect class="cx" x="937" y="2261" width="113" height="85" rx="6"/><rect class="nd" x="950" y="2273" width="88" height="28" rx="14"/><text class="nt" x="994" y="2293">Jak2</text><rect class="nd" x="950" y="2305" width="88" height="27" rx="13"/><text class="nt" x="994" y="2325">Jak1</text><ellipse class="bd" cx="949" cy="2271" rx="20" ry="9"/><text class="bt" x="949" y="2274.5">Y1008</text><ellipse class="bd" cx="1039" cy="2271" rx="20" ry="9"/><text class="bt" x="1039" y="2274.5">Y1007</text><ellipse class="bd" cx="949" cy="2334" rx="20" ry="9"/><text class="bt" x="949" y="2337.5">Y1035</text><ellipse class="bd" cx="1039" cy="2334" rx="20" ry="9"/><text class="bt" x="1039" y="2337.5">Y1034</text></g>
<g id="p3-Stat1a"><rect class="nd" x="788" y="2477" width="87" height="29" rx="14"/><text class="nt" x="831.5" y="2498">Stat1</text><ellipse class="bd" cx="789" cy="2476" rx="20" ry="9"/><text class="bt" x="789" y="2479.5">Y701</text></g>
<g id="p3-Stat3a"><rect class="nd" x="1095" y="2476" width="87" height="29" rx="14"/><text class="nt" x="1138.5" y="2497">Stat3</text><ellipse class="bd" cx="1184" cy="2474" rx="20" ry="9"/><text class="bt" x="1184" y="2477.5">Y705</text></g>
<g id="p3-Stat1b"><rect class="nd" x="788" y="2723" width="87" height="28" rx="14"/><text class="nt" x="831.5" y="2743">Stat1</text><ellipse class="bd" cx="788" cy="2721" rx="20" ry="9"/><text class="bt" x="788" y="2724.5">Y701</text></g>
<g id="p3-Stat3b"><rect class="nd" x="1094" y="2722" width="88" height="28" rx="14"/><text class="nt" x="1138" y="2742">Stat3</text><ellipse class="bd" cx="1182" cy="2720" rx="20" ry="9"/><text class="bt" x="1182" y="2723.5">Y705</text></g>
<g id="p3-Smad"><rect class="cx" x="298" y="2598" width="113" height="81" rx="6"/><rect class="nd" x="311" y="2610" width="87" height="27" rx="13"/><text class="nt" x="354.5" y="2630">Smad2</text><rect class="nd" x="311" y="2640" width="87" height="27" rx="13"/><text class="nt" x="354.5" y="2660">Smad3</text><ellipse class="bd" cx="309" cy="2607" rx="20" ry="9"/><text class="bt" x="309" y="2610.5">S465</text><ellipse class="bd" cx="399" cy="2607" rx="20" ry="9"/><text class="bt" x="399" y="2610.5">S467</text><ellipse class="bd" cx="309" cy="2667" rx="20" ry="9"/><text class="bt" x="309" y="2670.5">S425</text><ellipse class="bd" cx="399" cy="2667" rx="20" ry="9"/><text class="bt" x="399" y="2670.5">S423</text></g>

<g id="p3-MCM"><rect class="big" x="476" y="2891" width="405" height="396" rx="16"/>
<rect class="grp" x="508" y="2914" width="100" height="100" rx="12"/>
<rect class="cr" x="515" y="2921" width="89" height="28"/><text class="tr i" x="559.5" y="2941">Acta2</text>
<rect class="cr" x="515" y="2951" width="89" height="28"/><text class="tr i" x="559.5" y="2971">Col1a1</text>
<rect class="cr" x="515" y="2981" width="89" height="28"/><text class="tr" x="559.5" y="3001">Cxcl12</text>
<rect class="grp" x="651" y="2913" width="191" height="98" rx="12"/>
<rect class="cr" x="656" y="2921" width="87" height="28"/><text class="tr" x="699.5" y="2941">Mcm2</text>
<rect class="cr" x="656" y="2951" width="87" height="28"/><text class="tr" x="699.5" y="2971">Mcm3</text>
<rect class="cr" x="656" y="2981" width="87" height="28"/><text class="tr i" x="699.5" y="3001">Mcm4</text>
<rect class="cr" x="749" y="2921" width="88" height="28"/><text class="tr i" x="793" y="2941">Mcm5</text>
<rect class="cr" x="749" y="2951" width="88" height="28"/><text class="tr" x="793" y="2971">Mcm6</text>
<rect class="cr" x="749" y="2981" width="88" height="28"/><text class="tr" x="793" y="3001">Mcm7</text>
<rect class="big" x="489" y="3116" width="381" height="159" rx="14"/>
<rect class="cr" x="494" y="3123" width="88" height="28"/><text class="tr" x="538" y="3143">Pcna</text>
<rect class="cr" x="494" y="3153" width="88" height="28"/><text class="tr" x="538" y="3173">Rac1</text>
<rect class="cr" x="494" y="3182" width="88" height="28"/><text class="tr" x="538" y="3202">Pole3</text>
<rect class="cr" x="494" y="3212" width="88" height="28"/><text class="tr" x="538" y="3232">Egfr</text>
<rect class="cr" x="589" y="3123" width="88" height="28"/><text class="tr" x="633" y="3143">Upf1</text>
<rect class="cr" x="589" y="3153" width="88" height="28"/><text class="tr" x="633" y="3173">Nasp</text>
<rect class="cr" x="589" y="3182" width="88" height="28"/><text class="tr" x="633" y="3202">Dhx9</text>
<rect class="cr" x="589" y="3212" width="88" height="28"/><text class="tr" x="633" y="3232">Pura</text>
<rect class="cr" x="683" y="3123" width="88" height="28"/><text class="tr" x="727" y="3143">Cacybp</text>
<rect class="cb" x="683" y="3153" width="88" height="28"/><text class="tb" x="727" y="3173">Rbbp4</text>
<rect class="cr" x="683" y="3182" width="88" height="28"/><text class="tr" x="727" y="3202">Nucks1</text>
<rect class="cr" x="683" y="3212" width="88" height="28"/><text class="tr" x="727" y="3232">Srpk2</text>
<rect class="cb" x="777" y="3123" width="88" height="28"/><text class="tb" x="821" y="3143">Npm1</text>
<rect class="cr" x="777" y="3153" width="88" height="28"/><text class="tr" x="821" y="3173">Orc1</text>
<rect class="cr" x="777" y="3182" width="88" height="28"/><text class="tr" x="821" y="3202">Orc2</text>
<rect class="cr" x="777" y="3212" width="88" height="28"/><text class="tr" x="821" y="3232">Samhd1</text>
<rect class="cr" x="520" y="3243" width="88" height="28"/><text class="tr" x="564" y="3263">Cdc42</text>
<rect class="cr" x="628" y="3243" width="88" height="28"/><text class="tr" x="672" y="3263" style="font-size:15.5px">Zmpste24</text>
<rect class="cr" x="735" y="3243" width="88" height="28"/><text class="tr" x="779" y="3263">Atrx</text></g>
<g id="p3-Smad67"><rect class="grp" x="304" y="3130" width="98" height="67" rx="12"/>
<rect class="cb" x="309" y="3134" width="89" height="28"/><text class="tb" x="353.5" y="3154">Smad6</text>
<rect class="cb" x="309" y="3164" width="89" height="28"/><text class="tb" x="353.5" y="3184">Smad7</text></g>

<g id="p3-labels">
<text class="cy" x="800" y="2537">CY</text>
<text class="cy" x="1105" y="2535">CY</text>
<text class="cy" x="805" y="2695">NU</text>
<text class="cy" x="1110" y="2694">NU</text>
<text class="mg" x="995" y="2843" style="font-size:24px">STAT1/3 mediated</text>
<text class="mg" x="995" y="2869" style="font-size:24px">transcriptional</text>
<text class="mg" x="995" y="2895" style="font-size:24px">regulation</text>
<text class="mg" x="672" y="3047" style="font-size:21px">Minichromosome</text>
<text class="mg" x="672" y="3071" style="font-size:21px">maintenance (MCM) proteins</text>
<text class="mg" x="672" y="3095" style="font-size:21px">invovled in DNA replication</text>
<text class="rd" x="511" y="3327" font-size="28">IL-17A mediated pulmonary SMAD-</text>
<text class="rd" x="511" y="3359" font-size="28">dependent and non-dependent</text>
<text class="rd" x="511" y="3392" font-size="28">mechanism during acute</text>
<text class="rd" x="511" y="3424" font-size="28">lung injury in vivo</text>
</g>

<!-- ===== Panel 4 nodes ===== -->
<g id="p4-IL17A"><rect class="nd" x="1609" y="2074" width="86" height="27" rx="13"/><text class="nt" x="1652" y="2094">IL-17A</text></g>
<g id="p4-IL17RA"><rect class="nd" x="1609" y="2184" width="86" height="27" rx="13"/><text class="nt" x="1652" y="2204">IL17RA</text></g>
<g id="p4-Jak"><rect class="cx" x="1329" y="2330" width="112" height="81" rx="6"/><rect x="1341" y="2341" width="89" height="29" fill="#fff" stroke="#000" stroke-width="2"/><text class="nt" x="1385.5" y="2362">Jak2</text><rect x="1341" y="2371" width="89" height="29" fill="#fff" stroke="#000" stroke-width="2"/><text class="nt" x="1385.5" y="2392">Jak1</text><ellipse class="bd" cx="1342" cy="2340" rx="26" ry="9"/><text class="bt" x="1342" y="2343.5">Y1007</text><ellipse class="bd" cx="1430" cy="2340" rx="26" ry="9"/><text class="bt" x="1430" y="2343.5">Y1008</text><ellipse class="bd" cx="1342" cy="2400" rx="21" ry="9"/><text class="bt" x="1342" y="2403.5">Y1034</text><ellipse class="bd" cx="1430" cy="2400" rx="21" ry="9"/><text class="bt" x="1430" y="2403.5">Y1035</text></g>
<g id="p4-MAPK14"><rect class="nd" x="1452" y="2490" width="92" height="30" rx="14"/><text class="nt" x="1498" y="2512">MAPK14</text><ellipse class="bd" cx="1450" cy="2489" rx="21" ry="9"/><text class="bt" x="1450" y="2492.5">T183</text><ellipse class="bd" cx="1545" cy="2489" rx="21" ry="9"/><text class="bt" x="1545" y="2492.5">Y185</text></g>
<g id="p4-MAPK"><polygon class="cx" points="1609,2460 1694,2460 1708,2474 1708,2530 1694,2544 1609,2544 1595,2530 1595,2474"/><rect class="nd" x="1607" y="2473" width="88" height="29" rx="14"/><text class="nt" x="1651" y="2494">MAPK1</text><rect class="nd" x="1607" y="2503" width="88" height="29" rx="14"/><text class="nt" x="1651" y="2524">MAPK3</text><ellipse class="bd" cx="1696" cy="2471" rx="7" ry="7"/><text class="pt" x="1696" y="2474">P</text><ellipse class="bd" cx="1696" cy="2532" rx="7" ry="7"/><text class="pt" x="1696" y="2535">P</text></g>
<g id="p4-Akt1"><rect class="nd" x="1839" y="2426" width="90" height="28" rx="14"/><text class="nt" x="1884" y="2446">Akt1</text><ellipse class="bd" cx="1929" cy="2454" rx="7" ry="7"/><text class="pt" x="1929" y="2457">P</text></g>
<g id="p4-mTOR"><rect class="nd" x="1886" y="2672" width="88" height="28" rx="14"/><text class="nt" x="1930" y="2692">mTOR</text></g>
<g id="p4-P53"><rect class="nd" x="1607" y="2694" width="88" height="28" rx="14"/><text class="nt" x="1651" y="2714">P53</text><ellipse class="bd" cx="1696" cy="2692" rx="7" ry="7"/><text class="pt" x="1696" y="2695">P</text></g>
<g id="p4-Stat3"><rect class="nd" x="1338" y="2770" width="89" height="28" rx="14"/><text class="nt" x="1382.5" y="2790">Stat3</text></g>
<g id="p4-Parp1"><rect class="grp" x="1597" y="2931" width="106" height="149" rx="14"/>
<rect class="cr" x="1609" y="2949" width="87" height="29"/><text class="tr" x="1652.5" y="2970">Parp1</text>
<rect class="cr" x="1609" y="2979" width="87" height="29"/><text class="tr i" x="1652.5" y="3000">Crebbp</text>
<rect class="cb" x="1609" y="3008" width="87" height="29"/><text class="tb" x="1652.5" y="3029">Plaur</text>
<rect class="cb" x="1609" y="3038" width="87" height="29"/><text class="tb" x="1652.5" y="3059">Plau</text></g>
<g id="p4-Cxcl"><rect class="grp" x="1753" y="2970" width="106" height="110" rx="14"/>
<rect class="cr" x="1761" y="2982" width="88" height="29"/><text class="tr i" x="1805" y="3003">Cxcl1</text>
<rect class="cr" x="1761" y="3012" width="88" height="29"/><text class="tr i" x="1805" y="3033">Cxcl12</text>
<rect class="cr" x="1761" y="3042" width="88" height="29"/><text class="tr i" x="1805" y="3063">Cxcl5</text></g>
<g id="p4-Serpine1"><rect class="grp" x="1340" y="3087" width="106" height="77" rx="14"/>
<rect class="cr" x="1349" y="3097" width="89" height="28"/><text class="tr" x="1393.5" y="3117">Serpine1</text>
<rect class="cr" x="1349" y="3127" width="89" height="28"/><text class="tr" x="1393.5" y="3147">Casp3</text></g>
<g id="p4-labels">
<text class="mg2" x="1718" y="3169">Inflammation, apoptosis,</text>
<text class="mg2" x="1718" y="3196">and migration</text>
<text class="mg2" x="1415" y="3217">Apoptosis and injury</text>
<text class="crm" x="1450" y="3294" font-size="27">Alveolar basal</text>
<text class="crm" x="1450" y="3321" font-size="27">epithelial A549 cells</text>
<text class="crm" x="1760" y="3267" font-size="27">Bleomycin induced mice</text>
</g>

<!-- ===== Panel 5 nodes ===== -->
<g id="p5-IL17A"><rect class="nd" x="2342" y="2027" width="88" height="28" rx="14"/><text class="nt" x="2386" y="2047">IL-17A</text></g>
<g id="p5-IL17RA"><rect class="nd" x="2341" y="2142" width="88" height="28" rx="14"/><text class="nt" x="2385" y="2162">IL17RA</text></g>
<g id="p5-NFKBIA"><rect class="nd" x="2094" y="2311" width="89" height="28" rx="14"/><text class="nt" x="2138.5" y="2331">NFKBIA</text><ellipse class="bdy" cx="2184" cy="2309" rx="7" ry="6"/><text class="pt" x="2184" y="2312">P</text></g>
<g id="p5-NFKB1"><rect class="nd" x="2094" y="2487" width="89" height="28" rx="14"/><text class="nt" x="2138.5" y="2507">NFKB1</text></g>
<g id="p5-MUC5AC"><rect class="grp" x="2085" y="2710" width="108" height="49" rx="14"/><rect x="2097" y="2721" width="87" height="28" fill="#fff" stroke="#ee0044" stroke-width="2.5"/><text class="crm i" x="2140.5" y="2741" font-size="17">MUC5AC</text></g>
<g id="p5-TGFB1"><rect class="grp" x="2236" y="2798" width="114" height="109" rx="14"/>
<rect class="cr" x="2249" y="2808" width="89" height="29"/><text class="tr" x="2293.5" y="2829">TGFB1</text>
<rect class="cr" x="2249" y="2838" width="89" height="29"/><text class="tr" x="2293.5" y="2859">IL-10</text>
<rect class="cr" x="2249" y="2868" width="89" height="29"/><text class="tr i" x="2293.5" y="2889">ACTA2</text></g>
<g id="p5-CSF3"><rect class="grp" x="2420" y="2443" width="106" height="105" rx="14"/>
<rect class="cr" x="2430" y="2453" width="87" height="28"/><text class="tr" x="2473.5" y="2473">CSF3</text>
<rect class="cr" x="2430" y="2483" width="87" height="28"/><text class="tr" x="2473.5" y="2503">CXCL1</text>
<rect class="cr" x="2430" y="2512" width="87" height="28"/><text class="tr" x="2473.5" y="2532">CCL2</text></g>
<g id="p5-Asthma"><rect class="grp" x="2622" y="2496" width="108" height="347" rx="14"/>
<rect class="cr" x="2632" y="2507" width="89" height="29"/><text class="tr i" x="2676.5" y="2528">VCAN</text>
<rect class="cr" x="2632" y="2537" width="89" height="29"/><text class="tr i" x="2676.5" y="2558">HSPG2</text>
<rect class="cr" x="2632" y="2567" width="89" height="29"/><text class="tr i" x="2676.5" y="2588">ACTA2</text>
<rect class="cr" x="2632" y="2597" width="89" height="29"/><text class="tr i" x="2676.5" y="2618">COL3A1</text>
<rect class="cr" x="2632" y="2627" width="89" height="29"/><text class="tr i" x="2676.5" y="2648">COL5A2</text>
<rect class="cr" x="2632" y="2657" width="89" height="29"/><text class="tr" x="2676.5" y="2678">TNF</text>
<rect class="cr" x="2632" y="2687" width="89" height="29"/><text class="tr" x="2676.5" y="2708">IL-6</text>
<rect class="cr" x="2632" y="2717" width="89" height="29"/><text class="tr" x="2676.5" y="2738">IL-10</text>
<rect class="cr" x="2632" y="2747" width="89" height="29"/><text class="tr" x="2676.5" y="2768">IL-11</text>
<rect class="cr" x="2632" y="2777" width="89" height="29"/><text class="tr" x="2676.5" y="2798">LIF</text>
<rect class="cr" x="2632" y="2807" width="89" height="29"/><text class="tr" x="2676.5" y="2828">CXCL8</text></g>
<g id="p5-Gram"><rect x="2314" y="2577" width="283" height="69" rx="14" fill="none" stroke="#000" stroke-width="3" stroke-dasharray="5 4"/><text class="lblc" x="2455" y="2607" style="font-size:24px">Gram-negative bacterial</text><text class="lblc" x="2455" y="2634" style="font-size:24px">pneumonia infection</text></g>
<g id="p5-labels">
<text x="2152" y="2405" font-size="18" font-weight="bold">Dissociation</text>
<text class="rd" x="2432" y="2705" font-size="30">Human</text>
<text class="rd" x="2432" y="2736" font-size="30">bronchial epithelial</text>
<text class="rd" x="2432" y="2768" font-size="30">(HBE) cells</text>
<text class="rd" x="2125" y="2820" font-size="30">Airway</text>
<text class="rd" x="2125" y="2854" font-size="30">epithelial</text>
<text class="rd" x="2125" y="2889" font-size="30">cells</text>
<text x="2245" y="2943" font-size="22" font-weight="bold" fill="#ff44ff" text-anchor="middle">Extracellular matrix</text>
<text x="2245" y="2967" font-size="22" font-weight="bold" fill="#ff44ff" text-anchor="middle">deposition and</text>
<text x="2245" y="2991" font-size="22" font-weight="bold" fill="#ff44ff" text-anchor="middle">neovascularization</text>
<text class="mg2" x="2608" y="2882">Proliferation of</text>
<text class="mg2" x="2608" y="2906">asthmatic fibrocytes</text>
<text class="rd" x="2669" y="2958" font-size="30">Asthma</text>
</g>

<!-- ===== Legend ===== -->
<g id="legend">
<rect x="2049" y="3016" width="723" height="420" fill="#fff" stroke="#000" stroke-width="5"/>
<text x="2401" y="3046" font-size="34" font-weight="bold" fill="#2020ee" text-anchor="middle">LEGEND</text>
<rect x="2096" y="3058" width="67" height="27" fill="#fff" stroke="#333" stroke-width="1.5"/>
<text x="2129.5" y="3078" font-size="19" text-anchor="middle">Ligand</text>
<line class="pk" x1="2129" y1="3085" x2="2129" y2="3110"/>
<ellipse class="dot" cx="2129" cy="3120" rx="10" ry="10"/>
<path d="M2187,3063 Q2196,3084 2205,3063" fill="none" stroke="#333" stroke-width="1.5"/>
<line x1="2196" y1="3076" x2="2196" y2="3105" stroke="#000" stroke-width="2"/>
<rect x="2154" y="3105" width="85" height="25" fill="#fff" stroke="#333" stroke-width="1.5"/>
<text x="2196.5" y="3124" font-size="19" text-anchor="middle">Receptor</text>
<rect x="2228" y="3059" width="87" height="29" fill="#fff" stroke="#000" stroke-width="3.5"/>
<text x="2271.5" y="3081" font-size="21" text-anchor="middle">Protein</text>
<rect x="2324" y="3059" width="88" height="29" fill="#fff" stroke="#000" stroke-width="3.5"/>
<text x="2368" y="3081" font-size="21" font-style="italic" text-anchor="middle">mRNA</text>
<rect x="2420" y="3058" width="129" height="32" fill="#fff" stroke="#ff0000" stroke-width="1.5"/>
<text x="2484.5" y="3081" font-size="19" fill="#ff0000" text-anchor="middle">Gene/Protein</text>
<rect x="2420" y="3094" width="129" height="36" fill="#fff" stroke="#0000cc" stroke-width="1.5"/>
<text x="2484.5" y="3119" font-size="19" fill="#0000cc" text-anchor="middle">Gene/Protein</text>
<text class="lg" x="2558" y="3081">Upregulation</text>
<text class="lg" x="2558" y="3118">Downregulation</text>
<rect x="2093" y="3153" width="70" height="37" rx="10" fill="#defbee" stroke="#000" stroke-width="1.5" stroke-dasharray="4 3"/>
<text class="lgr" x="2207" y="3179">IL-17A stimulation</text>
<rect x="2095" y="3201" width="69" height="37" rx="10" fill="#d7fafb" stroke="#000" stroke-width="1.5" stroke-dasharray="4 3"/>
<text class="lgr" x="2207" y="3215">Bleomycin induced</text>
<text class="lgr" x="2207" y="3237">IL-17A activation</text>
<path class="ln" d="M2087,3281 H2168" marker-end="url(#af)"/>
<text class="lg" x="2211" y="3274">Leads to through</text>
<text class="lg" x="2211" y="3296">multiple reactions</text>
<line x1="2087" y1="3322" x2="2166" y2="3322" stroke="#ff3388" stroke-width="2.5"/>
<line x1="2166" y1="3312" x2="2166" y2="3332" stroke="#ff3388" stroke-width="2"/>
<text class="lg" x="2211" y="3330">Inhibition</text>
<path class="ln" d="M2099,3362 H2150" marker-end="url(#ao)"/>
<text class="lg" x="2217" y="3377">Activation</text>
<path class="lny" d="M2090,3410 H2180" marker-end="url(#ay)"/>
<text x="2316" y="3412" font-size="21" fill="#999900" text-anchor="middle">Particulate matter (PM2.5)</text>
<text x="2316" y="3433" font-size="21" fill="#999900" text-anchor="middle">stimulation</text>
<rect x="2437" y="3153" width="89" height="29" rx="14" fill="#fff" stroke="#000" stroke-width="2.5"/>
<text x="2481.5" y="3174" font-size="19" text-anchor="middle">Protein</text>
<circle cx="2526" cy="3153" r="8" fill="#fff" stroke="#999" stroke-width="1"/>
<text x="2526" y="3157" font-size="10" text-anchor="middle">P</text>
<text class="lg" x="2547" y="3172">Phosphorylation</text>
<path class="lnc" d="M2447,3219 H2526" marker-end="url(#ac)"/>
<text class="lg" x="2555" y="3224">Translocation</text>
<text x="2492" y="3271" font-size="21" fill="#00cccc" text-anchor="middle">PM</text>
<text x="2492" y="3300" font-size="21" fill="#00cccc" text-anchor="middle">CY</text>
<text x="2492" y="3326" font-size="21" fill="#00cccc" text-anchor="middle">NU</text>
<text x="2492" y="3354" font-size="21" fill="#00cccc" text-anchor="middle">EC</text>
<text class="lg" x="2547" y="3271">Plasma membrane</text>
<text class="lg" x="2547" y="3300">Cytoplasm</text>
<text class="lg" x="2547" y="3326">Nucleus</text>
<text class="lg" x="2547" y="3354">Extracellular</text>
<path class="lng" d="M2454,3401 H2544" marker-end="url(#ag)"/>
<text x="2646" y="3395" font-size="21" fill="#336600" text-anchor="middle">Experimental silica</text>
<text x="2646" y="3417" font-size="21" fill="#336600" text-anchor="middle">treatment in mice</text>
</g>
</svg>
